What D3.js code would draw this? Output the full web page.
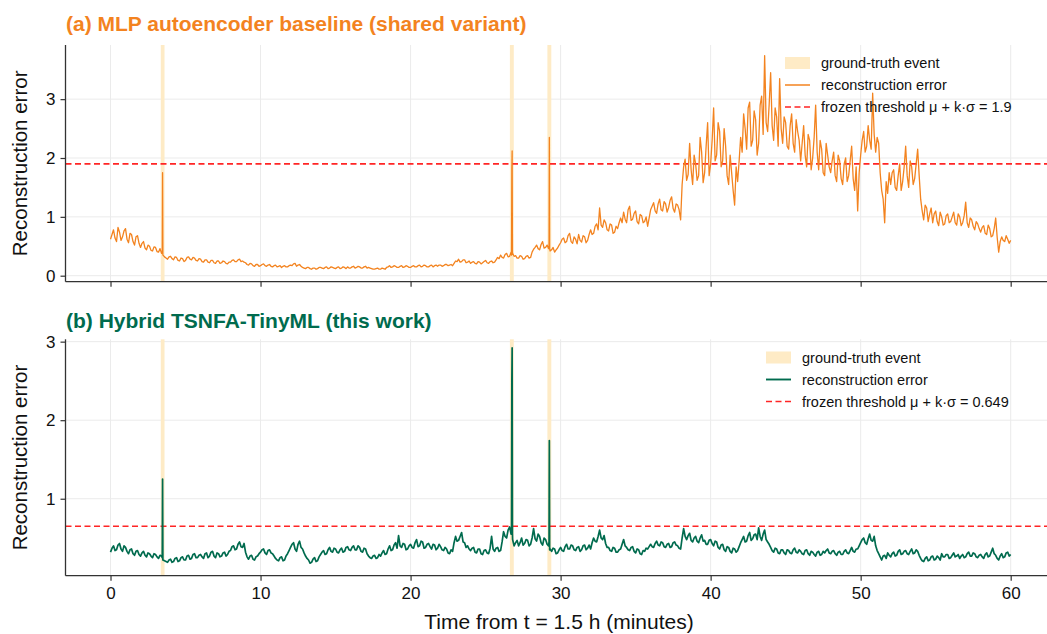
<!DOCTYPE html>
<html>
<head>
<meta charset="utf-8">
<script src="https://cdn.jsdelivr.net/npm/d3@7"></script>
<style>
  body { margin: 0; background: #fff; }
  svg { font-family: "Liberation Sans", Arial, sans-serif; }
</style>
</head>
<body>
<svg width="1047" height="634"></svg>
<script>
// sampling step of the stored series (minutes)
const STEP = 0.2;

// (a) MLP autoencoder, values at t = 0, 0.2, ... 60
const mlpError = [
  0.62,0.78,0.58,0.74,0.66,0.80,0.56,0.70,0.52,0.68,
  0.48,0.58,0.44,0.50,0.42,0.48,0.40,0.38,0.32,0.28,
  0.33,0.27,0.31,0.25,0.29,0.26,0.32,0.27,0.30,0.25,
  0.28,0.23,0.27,0.22,0.26,0.21,0.25,0.22,0.24,0.20,
  0.23,0.27,0.24,0.28,0.25,0.22,0.18,0.20,0.16,0.19,
  0.17,0.20,0.16,0.19,0.15,0.18,0.16,0.14,0.17,0.15,
  0.18,0.20,0.16,0.19,0.14,0.12,0.14,0.11,0.13,0.12,
  0.14,0.12,0.15,0.13,0.14,0.12,0.15,0.13,0.14,0.15,
  0.13,0.16,0.14,0.15,0.13,0.16,0.14,0.12,0.11,0.13,
  0.11,0.12,0.14,0.17,0.15,0.16,0.14,0.17,0.15,0.16,
  0.14,0.17,0.15,0.18,0.16,0.17,0.15,0.18,0.17,0.16,
  0.18,0.17,0.19,0.18,0.17,0.25,0.28,0.24,0.27,0.23,
  0.21,0.24,0.20,0.23,0.22,0.26,0.21,0.25,0.23,0.31,
  0.35,0.30,0.38,0.33,0.38,0.34,0.30,0.33,0.29,0.34,
  0.31,0.45,0.52,0.44,0.58,0.48,0.46,0.44,0.40,0.47,
  0.56,0.64,0.58,0.72,0.55,0.62,0.70,0.57,0.66,0.60,
  0.78,0.72,0.88,1.15,0.82,0.90,0.76,0.86,0.74,0.80,
  0.98,1.08,0.90,1.18,0.96,1.10,0.88,1.02,0.92,0.84,
  1.12,1.24,1.06,1.30,1.10,1.22,1.16,1.34,1.08,1.20,
  0.95,1.85,1.62,2.25,1.55,1.90,1.70,2.10,1.75,2.60,
  1.90,2.85,2.05,2.45,1.95,2.20,1.55,1.75,1.20,1.60,
  2.35,2.75,2.15,2.95,2.30,2.65,2.25,3.05,3.74,2.45,
  3.45,2.30,2.70,3.35,2.25,2.60,2.15,2.75,2.10,2.45,
  1.95,2.55,1.85,2.30,2.00,2.90,1.80,2.15,1.70,2.05,
  1.75,2.10,1.60,1.95,1.55,2.00,1.70,2.20,1.45,1.10,
  2.05,2.45,2.20,2.30,3.10,2.10,2.25,1.45,0.90,1.40,
  1.55,1.80,1.45,1.90,1.60,2.20,1.50,1.85,1.65,2.15,
  1.30,0.95,1.15,1.05,0.90,1.10,0.85,1.00,0.88,1.05,
  0.92,1.08,0.86,1.00,0.90,1.25,0.82,0.95,0.78,0.88,
  0.74,0.85,0.70,0.80,0.68,0.98,0.40,0.66,0.58,0.62,
  0.60
];
// in-between samples at t = 0.1, 0.3, ... 59.9
const mlpErrorMid = [
  0.70,0.64,0.82,0.60,0.76,0.62,0.72,0.58,0.66,0.55,
  0.55,0.47,0.52,0.43,0.49,0.41,0.46,0.35,0.30,0.32,
  0.29,0.32,0.26,0.30,0.24,0.31,0.28,0.31,0.26,0.29,
  0.24,0.27,0.23,0.26,0.22,0.25,0.21,0.25,0.21,0.23,
  0.26,0.24,0.27,0.24,0.23,0.19,0.21,0.17,0.19,0.16,
  0.19,0.17,0.18,0.16,0.17,0.15,0.17,0.16,0.15,0.17,
  0.17,0.21,0.18,0.16,0.13,0.14,0.12,0.13,0.11,0.14,
  0.13,0.14,0.12,0.15,0.13,0.14,0.12,0.15,0.12,0.13,
  0.15,0.13,0.16,0.13,0.15,0.13,0.13,0.11,0.12,0.11,
  0.13,0.11,0.15,0.14,0.17,0.14,0.16,0.14,0.17,0.14,
  0.16,0.15,0.17,0.15,0.18,0.15,0.17,0.15,0.18,0.18,
  0.16,0.19,0.17,0.19,0.21,0.24,0.23,0.27,0.22,0.25,
  0.23,0.21,0.24,0.20,0.24,0.22,0.24,0.22,0.27,0.29,
  0.31,0.36,0.32,0.40,0.33,0.30,0.34,0.28,0.33,0.30,
  0.40,0.48,0.46,0.53,0.47,0.52,0.42,0.48,0.44,0.52,
  0.62,0.56,0.68,0.58,0.66,0.54,0.60,0.68,0.56,0.70,
  0.70,0.84,0.78,0.86,0.95,0.78,0.88,0.72,0.84,0.90,
  0.90,0.96,1.12,0.94,1.06,0.92,1.04,0.90,1.00,0.98,
  1.18,1.10,1.22,1.12,1.26,1.08,1.28,1.14,1.22,1.12,
  1.55,1.98,1.72,1.80,2.05,1.62,2.35,1.58,2.20,1.70,
  2.30,1.95,2.60,1.85,2.50,1.70,2.05,1.45,1.85,1.95,
  2.10,2.50,2.85,2.20,2.80,2.05,2.90,2.40,2.60,2.90,
  2.55,2.85,2.20,2.50,2.70,2.20,2.55,2.25,2.65,2.30,
  2.25,2.05,2.40,1.80,2.35,2.10,2.30,1.75,2.25,1.85,
  1.95,1.70,2.05,1.65,1.90,1.60,1.95,1.65,1.85,1.75,
  2.30,2.10,2.55,2.15,2.40,2.35,1.75,1.30,1.60,1.75,
  1.75,1.50,1.70,1.45,1.85,1.70,1.95,1.55,1.90,1.70,
  1.10,1.20,0.92,1.15,1.05,0.92,1.08,0.86,1.02,0.90,
  1.00,0.90,1.05,0.85,1.02,0.90,0.98,0.84,0.92,0.80,
  0.82,0.72,0.86,0.66,0.80,0.65,0.58,0.60,0.68,0.55
];

// (b) Hybrid TSNFA-TinyML, same sampling
const hybridError = [
  0.32,0.40,0.35,0.43,0.33,0.38,0.30,0.36,0.28,0.34,
  0.27,0.33,0.26,0.30,0.25,0.29,0.24,0.27,0.21,0.19,
  0.23,0.20,0.25,0.21,0.26,0.22,0.28,0.24,0.30,0.25,
  0.29,0.24,0.31,0.27,0.33,0.25,0.30,0.27,0.32,0.29,
  0.34,0.40,0.36,0.45,0.38,0.32,0.23,0.28,0.22,0.27,
  0.32,0.36,0.29,0.35,0.30,0.24,0.21,0.26,0.22,0.30,
  0.38,0.44,0.33,0.46,0.36,0.27,0.22,0.19,0.25,0.21,
  0.29,0.34,0.30,0.38,0.32,0.36,0.31,0.37,0.33,0.39,
  0.34,0.40,0.35,0.38,0.32,0.36,0.27,0.24,0.28,0.25,
  0.27,0.34,0.30,0.40,0.35,0.44,0.53,0.38,0.42,0.36,
  0.42,0.37,0.48,0.40,0.45,0.38,0.43,0.36,0.41,0.37,
  0.39,0.34,0.36,0.30,0.33,0.52,0.47,0.57,0.44,0.40,
  0.34,0.38,0.31,0.36,0.29,0.35,0.30,0.52,0.33,0.38,
  0.34,0.58,0.50,0.64,0.48,0.44,0.40,0.50,0.43,0.47,
  0.42,0.62,0.46,0.52,0.41,0.48,0.40,0.33,0.36,0.31,
  0.38,0.33,0.42,0.36,0.40,0.34,0.39,0.35,0.41,0.37,
  0.36,0.50,0.45,0.60,0.48,0.43,0.38,0.33,0.37,0.32,
  0.36,0.48,0.38,0.34,0.39,0.31,0.35,0.29,0.33,0.36,
  0.42,0.38,0.46,0.40,0.44,0.38,0.43,0.39,0.45,0.40,
  0.36,0.62,0.48,0.56,0.45,0.52,0.44,0.54,0.47,0.42,
  0.48,0.40,0.45,0.36,0.42,0.33,0.38,0.31,0.36,0.34,
  0.44,0.52,0.46,0.57,0.49,0.55,0.63,0.47,0.60,0.45,
  0.38,0.32,0.36,0.30,0.35,0.29,0.34,0.30,0.37,0.31,
  0.33,0.29,0.35,0.28,0.32,0.27,0.33,0.29,0.31,0.36,
  0.30,0.34,0.28,0.33,0.29,0.35,0.30,0.38,0.32,0.36,
  0.44,0.50,0.42,0.55,0.46,0.40,0.30,0.22,0.28,0.31,
  0.26,0.32,0.28,0.35,0.30,0.34,0.29,0.36,0.31,0.33,
  0.24,0.20,0.26,0.22,0.27,0.23,0.25,0.30,0.26,0.29,
  0.25,0.31,0.27,0.24,0.29,0.26,0.32,0.27,0.30,0.25,
  0.29,0.24,0.31,0.27,0.37,0.28,0.22,0.30,0.26,0.32,
  0.29
];
const hybridErrorMid = [
  0.37,0.34,0.41,0.36,0.40,0.33,0.35,0.30,0.33,0.29,
  0.31,0.28,0.31,0.27,0.30,0.26,0.28,0.22,0.20,0.22,
  0.19,0.24,0.20,0.25,0.22,0.27,0.23,0.29,0.25,0.28,
  0.26,0.30,0.25,0.32,0.27,0.31,0.26,0.31,0.27,0.33,
  0.39,0.35,0.42,0.39,0.43,0.26,0.27,0.23,0.26,0.30,
  0.35,0.31,0.34,0.31,0.27,0.22,0.25,0.21,0.27,0.34,
  0.42,0.36,0.42,0.38,0.31,0.24,0.18,0.23,0.20,0.26,
  0.32,0.29,0.35,0.33,0.37,0.32,0.35,0.32,0.38,0.35,
  0.38,0.35,0.40,0.33,0.37,0.30,0.25,0.27,0.24,0.29,
  0.31,0.29,0.36,0.34,0.41,0.37,0.40,0.43,0.35,0.40,
  0.38,0.44,0.39,0.46,0.37,0.42,0.39,0.42,0.35,0.42,
  0.35,0.38,0.31,0.35,0.44,0.46,0.52,0.45,0.38,0.36,
  0.37,0.32,0.36,0.30,0.34,0.31,0.37,0.36,0.37,0.33,
  0.45,0.52,0.60,0.55,0.40,0.47,0.44,0.41,0.48,0.40,
  0.50,0.49,0.55,0.44,0.50,0.42,0.36,0.37,0.30,0.35,
  0.34,0.39,0.36,0.41,0.35,0.38,0.33,0.40,0.35,0.41,
  0.44,0.46,0.52,0.50,0.53,0.38,0.34,0.38,0.32,0.35,
  0.42,0.40,0.35,0.38,0.33,0.36,0.30,0.34,0.37,0.39,
  0.39,0.43,0.41,0.45,0.39,0.42,0.38,0.44,0.41,0.37,
  0.50,0.52,0.53,0.47,0.50,0.46,0.50,0.46,0.42,0.47,
  0.43,0.46,0.38,0.41,0.35,0.39,0.33,0.37,0.32,0.39,
  0.48,0.45,0.53,0.47,0.54,0.48,0.52,0.55,0.48,0.42,
  0.34,0.37,0.31,0.35,0.31,0.35,0.31,0.35,0.32,0.35,
  0.30,0.34,0.30,0.33,0.29,0.32,0.28,0.33,0.34,0.31,
  0.33,0.30,0.32,0.29,0.33,0.31,0.34,0.33,0.36,0.40,
  0.48,0.44,0.49,0.47,0.52,0.34,0.26,0.27,0.24,0.28,
  0.30,0.27,0.33,0.29,0.33,0.30,0.33,0.30,0.35,0.28,
  0.21,0.24,0.21,0.26,0.22,0.27,0.22,0.26,0.29,0.24,
  0.28,0.26,0.29,0.27,0.25,0.30,0.27,0.31,0.26,0.28,
  0.26,0.29,0.26,0.32,0.30,0.24,0.27,0.25,0.31,0.27
];

// short spikes at the events (between regular samples)
const mlpSpikeT = [3.45, 3.47, 3.49, 26.73, 26.75, 26.77, 26.79, 29.23, 29.25, 29.27];
const mlpSpikeV = [0.40, 1.75, 0.35, 0.35, 1.80, 2.12, 0.40, 0.46, 2.35, 0.46];
const hybSpikeT = [3.45, 3.47, 3.49, 26.73, 26.75, 26.77, 26.79, 29.23, 29.25, 29.27];
const hybSpikeV = [0.25, 1.25, 0.22, 0.62, 2.48, 2.92, 0.55, 0.45, 1.74, 0.35];

// ground-truth events
const eventStart = [3.35, 26.62, 29.12];
const eventEnd   = [3.60, 26.88, 29.38];

const thresholds = [1.9, 0.649];
const xTicks = [0, 10, 20, 30, 40, 50, 60];
const yTicksTop = [0, 1, 2, 3];
const yTicksBottom = [1, 2, 3];

const ORANGE = '#f3831f';
const GREEN = '#006b4e';
const RED = '#ff2525';
const BAND = '#feebc6';
const GRID = '#ebebeb';

const svg = d3.select('svg');

const x = d3.scaleLinear().domain([-3, 63]).range([65.5, 1055.7]);

function buildSeries(values, mid, spikeT, spikeV) {
  const pts = values.map((v, i) => [i * STEP, v]);
  mid.forEach((v, i) => pts.push([i * STEP + STEP / 2, v]));
  spikeT.forEach((t, i) => pts.push([t, spikeV[i]]));
  return pts.sort((a, b) => a[0] - b[0]);
}

const panels = [
  {
    title: '(a) MLP autoencoder baseline (shared variant)',
    color: ORANGE,
    data: buildSeries(mlpError, mlpErrorMid, mlpSpikeT, mlpSpikeV),
    y: d3.scaleLinear().domain([-0.102, 3.92]).range([281.7, 45]),
    yTicks: yTicksTop,
    thr: thresholds[0],
    thrLabel: 'frozen threshold \u03bc + k\u00b7\u03c3 = 1.9',
    titleY: 31,
    showXLabels: false,
    legend: { x: 785, y: 63 },
    lineWidth: 1.3
  },
  {
    title: '(b) Hybrid TSNFA-TinyML (this work)',
    color: GREEN,
    data: buildSeries(hybridError, hybridErrorMid, hybSpikeT, hybSpikeV),
    y: d3.scaleLinear().domain([0.02, 3.03]).range([575.7, 339.3]),
    yTicks: yTicksBottom,
    thr: thresholds[1],
    thrLabel: 'frozen threshold \u03bc + k\u00b7\u03c3 = 0.649',
    titleY: 328,
    showXLabels: true,
    legend: { x: 766, y: 357.5 },
    lineWidth: 1.7
  }
];

panels.forEach(p => {
  const g = svg.append('g');
  const [yBottom, yTop] = p.y.range();

  // grid
  g.selectAll('.vgrid').data(xTicks).enter().append('line')
    .attr('x1', d => x(d)).attr('x2', d => x(d))
    .attr('y1', yTop).attr('y2', yBottom)
    .attr('stroke', GRID).attr('stroke-width', 1);
  g.selectAll('.hgrid').data(p.yTicks).enter().append('line')
    .attr('x1', x.range()[0]).attr('x2', 1047)
    .attr('y1', d => p.y(d)).attr('y2', d => p.y(d))
    .attr('stroke', GRID).attr('stroke-width', 1);

  // event bands
  g.selectAll('.band').data(eventStart).enter().append('rect')
    .attr('x', d => x(d))
    .attr('width', (d, i) => x(eventEnd[i]) - x(d))
    .attr('y', yTop).attr('height', yBottom - yTop)
    .attr('fill', BAND);

  // threshold
  g.append('line')
    .attr('x1', x.range()[0]).attr('x2', 1047)
    .attr('y1', p.y(p.thr)).attr('y2', p.y(p.thr))
    .attr('stroke', RED).attr('stroke-width', 1.6)
    .attr('stroke-dasharray', '6,3.5');

  // error series
  const line = d3.line().x(d => x(d[0])).y(d => p.y(d[1]));
  g.append('path')
    .datum(p.data)
    .attr('d', line)
    .attr('fill', 'none')
    .attr('stroke', p.color)
    .attr('stroke-width', p.lineWidth)
    .attr('stroke-linejoin', 'round');

  // axes
  const xAxis = d3.axisBottom(x).tickValues(xTicks).tickSize(5).tickPadding(6)
    .tickFormat(p.showXLabels ? d3.format('d') : '');
  const gx = g.append('g').attr('transform', `translate(0,${yBottom})`).call(xAxis);
  gx.select('.domain').attr('d', `M${x.range()[0]},0H1047`);

  const yAxis = d3.axisLeft(p.y).tickValues(p.yTicks).tickSize(5).tickPadding(5)
    .tickFormat(d3.format('d'));
  const gy = g.append('g').attr('transform', `translate(${x.range()[0]},0)`).call(yAxis);
  gy.select('.domain').attr('d', `M0,${yTop}V${yBottom}`);

  [gx, gy].forEach(a => {
    a.selectAll('.domain').attr('stroke', '#333').attr('stroke-width', 1.3);
    a.selectAll('.tick line').attr('stroke', '#333').attr('stroke-width', 1.2);
    a.selectAll('.tick text').attr('fill', '#111').style('font-size', '17px')
      .style('font-family', '"Liberation Sans", Arial, sans-serif');
  });

  // title
  svg.append('text')
    .attr('x', 66).attr('y', p.titleY)
    .attr('fill', p.color)
    .style('font-size', '21px').style('font-weight', 'bold')
    .text(p.title);

  // y label
  svg.append('text')
    .attr('transform', `translate(27,${(yTop + yBottom) / 2}) rotate(-90)`)
    .attr('text-anchor', 'middle')
    .attr('fill', '#111')
    .style('font-size', '20.5px')
    .text('Reconstruction error');

  // legend
  const lg = svg.append('g').attr('transform', `translate(${p.legend.x},${p.legend.y})`);
  lg.append('rect').attr('x', 0).attr('y', -6).attr('width', 25).attr('height', 12).attr('fill', BAND);
  lg.append('line').attr('x1', 0).attr('x2', 25).attr('y1', 22).attr('y2', 22)
    .attr('stroke', p.color).attr('stroke-width', p.lineWidth + 0.2);
  lg.append('line').attr('x1', 0).attr('x2', 25).attr('y1', 44).attr('y2', 44)
    .attr('stroke', RED).attr('stroke-width', 1.6).attr('stroke-dasharray', '6,3.5');
  [ 'ground-truth event', 'reconstruction error', p.thrLabel ].forEach((t, i) => {
    lg.append('text')
      .attr('x', 36).attr('y', i * 22)
      .attr('dy', '0.35em')
      .attr('fill', '#111')
      .style('font-size', '14.5px')
      .text(t);
  });
});

// shared x label
svg.append('text')
  .attr('x', 559).attr('y', 629)
  .attr('text-anchor', 'middle')
  .attr('fill', '#111')
  .style('font-size', '21px')
  .text('Time from t = 1.5 h (minutes)');
</script>
</body>
</html>
